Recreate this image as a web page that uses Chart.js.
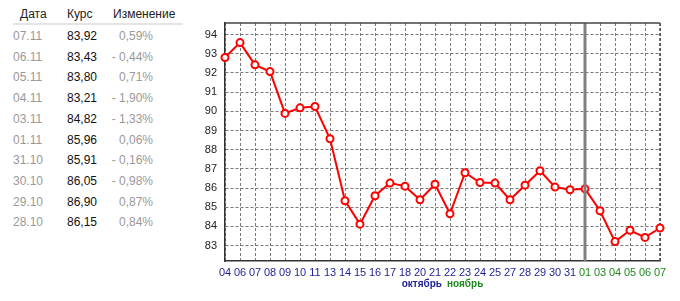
<!DOCTYPE html>
<html>
<head>
<meta charset="utf-8">
<script src="https://cdn.jsdelivr.net/npm/chart.js@4"></script>
<style>
  body { margin: 0; background: #fff; font-family: "Liberation Sans", Arial, sans-serif; }
  #wrap { position: relative; width: 680px; height: 301px; overflow: hidden; }
  #tbl { position: absolute; left: 13px; top: 0; width: 170px; font-size: 12px; }
  .hdr { position: absolute; top: 7px; color: #222; font-size: 12px; }
  .sep { position: absolute; left: 0; top: 23px; width: 170px; height: 2px; background: #e4e4e4; }
  .cell { position: absolute; }
  .d { color: #999; left: 0; }
  .v { color: #111; left: 54px; }
  .c { color: #999; right: 30px; text-align: right; }
  #chartBox { position: absolute; left: 180px; top: 0; width: 500px; height: 301px; }
  .mon { position: absolute; top: 278px; font: bold 10px "Liberation Sans", Arial, sans-serif; }
</style>
</head>
<body>
<div id="wrap">
  <div id="tbl"></div>
  <div id="chartBox"><canvas id="myChart-line"></canvas></div>
  <div class="mon" style="right:238px;color:#1f1f95">октябрь</div>
  <div class="mon" style="left:447px;color:#1e8a1e">ноябрь</div>
</div>
<script>
// таблица
const tblDates = ["07.11", "06.11", "05.11", "04.11", "03.11", "01.11", "31.10", "30.10", "29.10", "28.10"];
const tblRates = ["83,92", "83,43", "83,80", "83,21", "84,82", "85,96", "85,91", "86,05", "86,90", "86,15"];
const tblChange = ["0,59%", "- 0,44%", "0,71%", "- 1,90%", "- 1,33%", "0,06%", "- 0,16%", "- 0,98%", "0,87%", "0,84%"];

// график
const days = ["04","06","07","08","09","10","11","13","14","15","16","17","18","20","21",
              "22","23","24","25","27","28","29","30","31","01","03","04","05","06","07"];
const rates = [92.80, 93.58, 92.42, 92.07, 89.89, 90.18, 90.25, 88.57, 85.34, 84.12, 85.60, 86.26, 86.10, 85.39, 86.20,
               84.66, 86.80, 86.29, 86.26, 85.39, 86.15, 86.90, 86.05, 85.91, 85.96, 84.82, 83.21, 83.80, 83.43, 83.92];
const novStart = 24; // индекс "01" ноября

function tablica(){
    const t = document.getElementById("tbl");
    let html = '<div class="hdr" style="left:7px">Дата</div>' +
               '<div class="hdr" style="left:54px">Курс</div>' +
               '<div class="hdr" style="left:100px">Изменение</div>' +
               '<div class="sep"></div>';
    for (let i = 0; i < tblDates.length; i++) {
        const top = 29 + i * 20.7;
        html += '<div class="cell d" style="top:' + top + 'px">' + tblDates[i] + '</div>';
        html += '<div class="cell v" style="top:' + top + 'px">' + tblRates[i] + '</div>';
        html += '<div class="cell c" style="top:' + top + 'px">' + tblChange[i] + '</div>';
    }
    t.innerHTML = html;
}
tablica()

const ramka = {
    id: "ramka",
    afterDatasetsDraw(chart) {
        const {ctx, chartArea: a, scales: {x}} = chart;
        ctx.save();
        // разделитель месяцев
        const px = x.getPixelForValue(novStart);
        ctx.strokeStyle = "#808080";
        ctx.lineWidth = 3;
        ctx.beginPath(); ctx.moveTo(px, a.top); ctx.lineTo(px, a.bottom); ctx.stroke();
        // верх
        ctx.strokeStyle = "#444";
        ctx.lineWidth = 1.5;
        ctx.beginPath(); ctx.moveTo(a.left, a.top); ctx.lineTo(a.right, a.top); ctx.stroke();
        ctx.restore();
    },
    beforeDatasetsDraw(chart) {
        const {ctx, chartArea: a} = chart;
        ctx.save();
        ctx.strokeStyle = "#444";
        ctx.lineWidth = 1.5;
        ctx.setLineDash([3, 2]);
        ctx.beginPath(); ctx.moveTo(a.right, a.top); ctx.lineTo(a.right, a.bottom); ctx.stroke();
        ctx.restore();
    }
};

function grafico_linea(){
    const ctx = document.getElementById("myChart-line");
    new Chart(ctx, {
        type: "line",
        data: {
            labels: days,
            datasets: [{
                data: rates,
                borderColor: "#ff0000",
                borderWidth: 2,
                pointRadius: 3.5,
                pointBorderWidth: 2,
                pointBackgroundColor: "#ffffff",
                pointBorderColor: "#ff0000",
                tension: 0,
            }],
        },
        options: {
            responsive: false,
            animation: false,
            layout: { padding: { top: 23, right: 20, left: 0, bottom: 0 } },
            plugins: { legend: { display: false }, tooltip: { enabled: false } },
            scales: {
                x: {
                    offset: false,
                    grid: { color: "#7a7a7a", drawTicks: false },
                    border: { color: "#333", width: 1.5, dash: [3, 2] },
                    ticks: {
                        autoSkip: false, maxRotation: 0, minRotation: 0, padding: 5,
                        font: { family: "Liberation Sans", size: 11 },
                        color: (c) => c.index >= novStart ? "#1e8a1e" : "#1f1f95",
                    },
                    afterFit: (s) => { s.height = 40; },
                },
                y: {
                    min: 82.2,
                    max: 94.6,
                    grid: { color: "#7a7a7a", drawTicks: false },
                    border: { color: "#333", width: 1.5, dash: [3, 2] },
                    ticks: {
                        stepSize: 1, includeBounds: false, padding: 8,
                        font: { family: "Liberation Sans", size: 11 },
                        color: "#222",
                    },
                    afterFit: (s) => { s.width = 45; },
                },
            },
        },
        plugins: [ramka],
    });
}
ctxSize();
function ctxSize(){
    const c = document.getElementById("myChart-line");
    c.width = 500; c.height = 301;
    c.style.width = "500px"; c.style.height = "301px";
}
grafico_linea()
</script>
</body>
</html>
